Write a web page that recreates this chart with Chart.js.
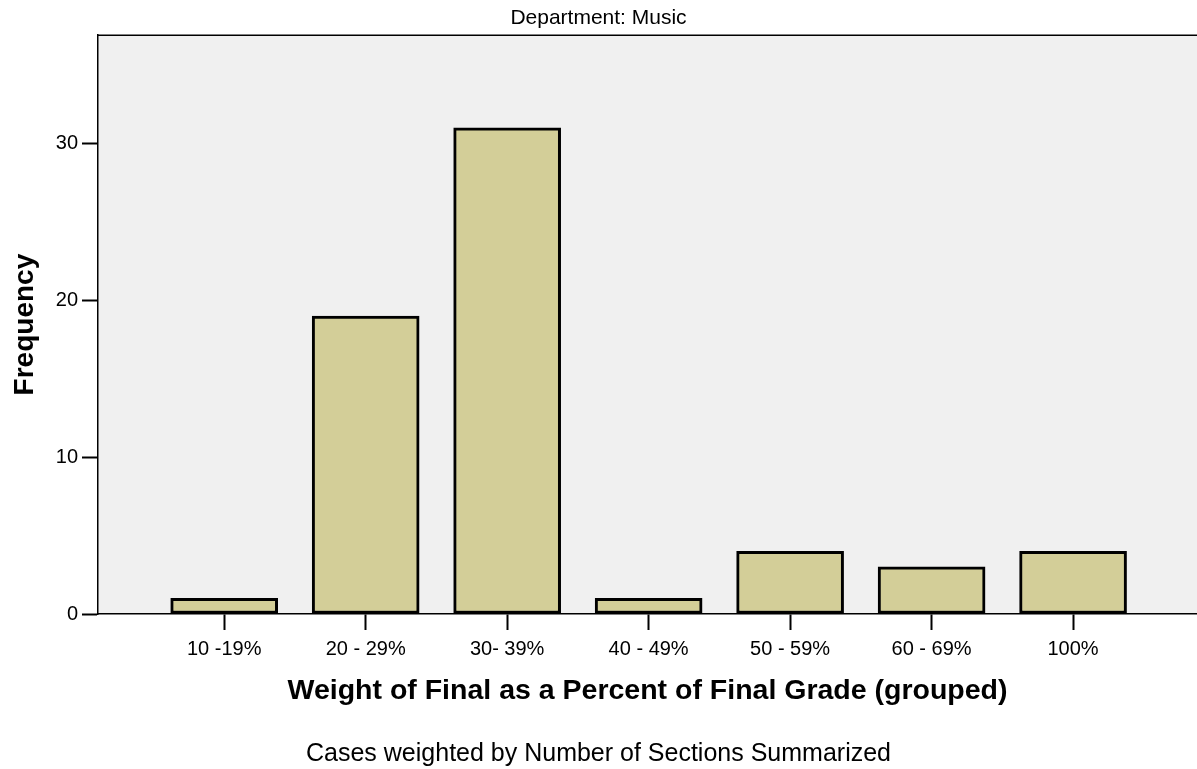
<!DOCTYPE html>
<html>
<head>
<meta charset="utf-8">
<script src="https://cdn.jsdelivr.net/npm/chart.js@4/dist/chart.umd.min.js"></script>
<style>
  html, body { margin: 0; padding: 0; background: #fff; }
  #wrap { width: 1197px; height: 769px; position: relative; }
</style>
</head>
<body>
<div id="wrap"><canvas id="chart"></canvas></div>
<script>
// categories and counts
const categories = ['10 -19%', '20 - 29%', '30- 39%', '40 - 49%', '50 - 59%', '60 - 69%', '100%'];
const frequency = [1, 19, 31, 1, 4, 3, 4];
const yTicks = [0, 10, 20, 30];

const FONT = "'Liberation Sans', Arial, sans-serif";

// plot background + top border
const plotFrame = {
    id: 'plotFrame',
    beforeDraw(chart) {
        const a = chart.chartArea;
        const ctx = chart.ctx;
        ctx.save();
        ctx.fillStyle = '#f0f0f0';
        ctx.fillRect(a.left, a.top, a.right - a.left, a.bottom - a.top);
        ctx.strokeStyle = '#000';
        ctx.lineWidth = 1.5;
        ctx.beginPath();
        ctx.moveTo(a.left, a.top);
        ctx.lineTo(a.right, a.top);
        ctx.stroke();
        ctx.restore();
    }
};

const ctx = document.getElementById('chart').getContext('2d');
new Chart(ctx, {
    type: 'bar',
    data: {
        datasets: [{
            label: 'Frequency',
            data: frequency.map((v, i) => ({ x: i, y: v })),
            backgroundColor: '#d3ce98',
            borderColor: '#000',
            borderWidth: 3,
            borderSkipped: false,
            barThickness: 107
        }]
    },
    options: {
        responsive: true,
        maintainAspectRatio: false,
        animation: false,
        layout: { padding: 0 },
        plugins: {
            legend: { display: false },
            tooltip: { enabled: false },
            title: {
                display: true,
                text: 'Department: Music',
                color: '#000',
                font: { family: FONT, size: 21, weight: 'normal' },
                padding: { top: 6, bottom: 4 }
            },
            subtitle: {
                display: true,
                position: 'bottom',
                text: 'Cases weighted by Number of Sections Summarized',
                color: '#000',
                font: { family: FONT, size: 25, weight: 'normal' },
                padding: { top: 19, bottom: 0 }
            }
        },
        scales: {
            x: {
                type: 'linear',
                min: -0.892,
                max: 6.876,
                offset: false,
                afterBuildTicks: axis => { axis.ticks = categories.map((c, i) => ({ value: i })); },
                afterFit: axis => { axis.height = 106; },
                ticks: {
                    color: '#000',
                    font: { family: FONT, size: 20 },
                    padding: 7,
                    maxRotation: 0,
                    autoSkip: false,
                    callback: v => categories[v]
                },
                grid: {
                    offset: false,
                    drawOnChartArea: false,
                    drawTicks: true,
                    tickLength: 16,
                    tickColor: '#000',
                    tickWidth: 2
                },
                border: { display: true, color: '#000', width: 1.5 },
                title: {
                    display: true,
                    text: 'Weight of Final as a Percent of Final Grade (grouped)',
                    color: '#000',
                    font: { family: FONT, size: 28.5, weight: 'bold' },
                    padding: { top: 0, bottom: 12 }
                }
            },
            y: {
                min: 0,
                max: 36.9,
                afterBuildTicks: axis => { axis.ticks = yTicks.map(v => ({ value: v })); },
                afterFit: axis => { axis.width = 98; },
                ticks: {
                    color: '#000',
                    font: { family: FONT, size: 20 },
                    padding: 4
                },
                grid: {
                    drawOnChartArea: false,
                    drawTicks: true,
                    tickLength: 16,
                    tickColor: '#000',
                    tickWidth: 2
                },
                border: { display: true, color: '#000', width: 1.5 },
                title: {
                    display: true,
                    text: 'Frequency',
                    color: '#000',
                    font: { family: FONT, size: 28, weight: 'bold' },
                    padding: { top: 8, bottom: 0 }
                }
            }
        }
    },
    plugins: [plotFrame]
});
</script>
</body>
</html>
